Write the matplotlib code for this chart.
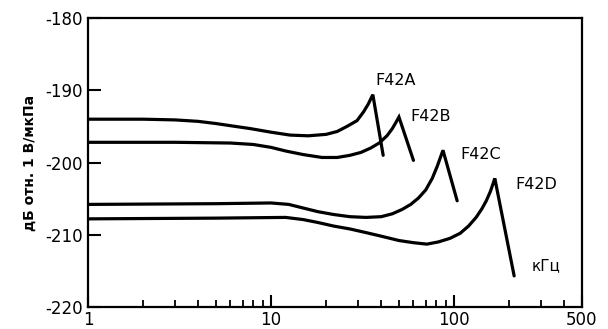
import numpy as np
import matplotlib.pyplot as plt
from matplotlib.ticker import FixedLocator, NullFormatter

# frequency (kHz) and level (dB re 1 V/uPa)
f_a = [1, 2, 3, 4, 5, 6, 7.7, 10, 12.7, 16, 20, 23, 26, 29.5, 32, 34, 36, 41]
db_a = [-194.0, -194.0, -194.1, -194.3, -194.6, -194.9, -195.3, -195.8, -196.2, -196.3,
        -196.1, -195.7, -195.0, -194.2, -193.0, -191.9, -190.6, -199.0]

f_b = [1, 3, 6, 8, 10, 12, 15, 19, 23, 27, 31, 35, 39, 43, 46, 48, 50, 60]
db_b = [-197.2, -197.2, -197.3, -197.5, -197.9, -198.4, -198.9, -199.3, -199.3, -199.0,
        -198.6, -198.0, -197.3, -196.3, -195.3, -194.5, -193.7, -199.7]

f_c = [1, 5, 10, 12.5, 15, 18, 22, 27, 33, 40, 46, 52, 58, 64, 70, 76, 81, 87, 104]
db_c = [-205.8, -205.7, -205.6, -205.8, -206.3, -206.8, -207.2, -207.5, -207.6, -207.5,
        -207.1, -206.5, -205.8, -204.9, -203.8, -202.2, -200.5, -198.3, -205.3]

f_d = [1, 5, 12, 15, 18, 22, 27, 33, 40, 50, 60, 71, 82, 95, 108, 120, 132, 142, 150,
       158, 163, 167, 213]
db_d = [-207.8, -207.7, -207.6, -207.9, -208.3, -208.8, -209.2, -209.7, -210.2, -210.8,
        -211.1, -211.3, -211.0, -210.5, -209.8, -208.8, -207.6, -206.4, -205.3, -204.0,
        -203.0, -202.2, -215.7]

names = ['F42A', 'F42B', 'F42C', 'F42D']
label_pos = [(37, -188.6), (58, -193.6), (108, -198.9), (215, -203.1)]

fig = plt.figure(figsize=(6.08, 3.29), dpi=100)
ax = fig.add_axes([0.1447, 0.067, 0.8125, 0.878])

for f, db in [(f_a, db_a), (f_b, db_b), (f_c, db_c), (f_d, db_d)]:
    ax.plot(f, db, color='black', lw=2.3, solid_capstyle='round', solid_joinstyle='miter')

for name, (x, y) in zip(names, label_pos):
    ax.text(x, y, name, fontsize=11.5, ha='left', va='center')
ax.text(265, -214.3, 'кГц', fontsize=11, ha='left', va='center')

ax.set_xscale('log')
ax.set_xlim(1, 500)
ax.set_ylim(-220, -180)

ax.xaxis.set_major_locator(FixedLocator([1, 10, 100, 500]))
ax.xaxis.set_major_formatter(plt.FixedFormatter(['1', '10', '100', '500']))
ax.xaxis.set_minor_locator(FixedLocator([2, 3, 4, 5, 6, 7, 8, 9, 20, 30, 40, 50, 60, 70, 80, 90, 200, 300, 400]))
ax.xaxis.set_minor_formatter(NullFormatter())
ax.set_yticks([-220, -210, -200, -190, -180])
ax.set_yticklabels(['-220', '-210', '-200', '-190', '-180'])

ax.tick_params(axis='both', which='major', direction='in', length=9, width=1.5, labelsize=12)
ax.tick_params(axis='x', which='minor', direction='in', length=5, width=1.3)
ax.tick_params(axis='x', which='major', pad=3)
for s in ax.spines.values():
    s.set_linewidth(1.6)

ax.set_ylabel('дБ отн. 1 В/мкПа', fontsize=10, fontweight='bold', labelpad=6)

fig.savefig('out.png', dpi=100)
